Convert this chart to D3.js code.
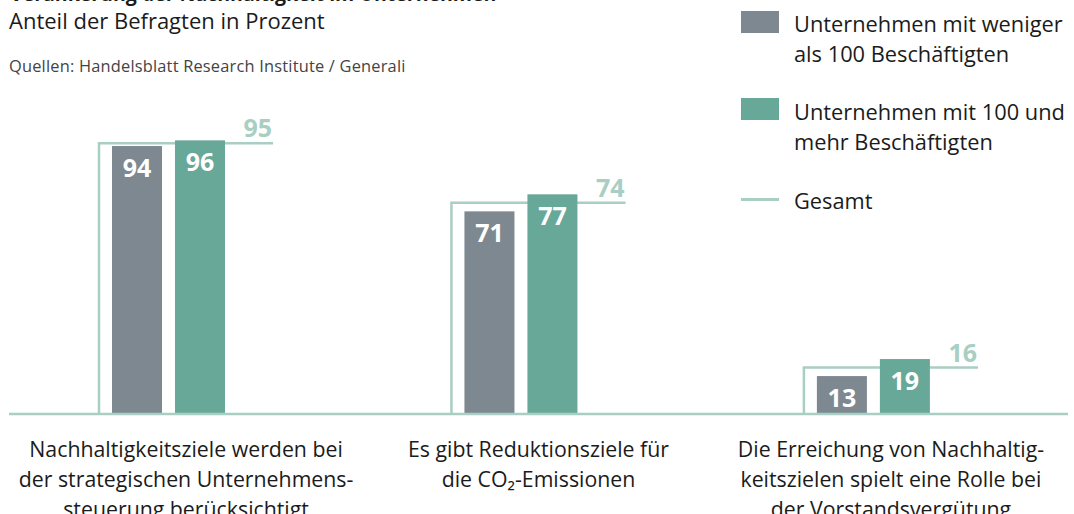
<!DOCTYPE html>
<html>
<head>
<meta charset="utf-8">
<script src="https://cdn.jsdelivr.net/npm/d3@7"></script>
<style>
  body { margin: 0; background: #fff; }
  svg { display: block; font-family: "Open Sans", sans-serif; }
</style>
</head>
<body>
<script>
// data
const categories = [
  ["Nachhaltigkeitsziele werden bei", "der strategischen Unternehmens-", "steuerung berücksichtigt"],
  ["Es gibt Reduktionsziele für", "die CO₂-Emissionen"],
  ["Die Erreichung von Nachhaltig-", "keitszielen spielt eine Rolle bei", "der Vorstandsvergütung"]
];
const small = [94, 71, 13];   // < 100 Beschäftigte
const large = [96, 77, 19];   // >= 100 Beschäftigte
const total = [95, 74, 16];   // Gesamt
const seriesNames = ["Unternehmen mit weniger als 100 Beschäftigten", "Unternehmen mit 100 und mehr Beschäftigten"];
const legendLines = [["Unternehmen mit weniger", "als 100 Beschäftigten"], ["Unternehmen mit 100 und", "mehr Beschäftigten"], ["Gesamt"]];

const colGray = "#7e8891", colGreen = "#68a898", colLight = "#a9cec3", colText = "#1b1b1b";

const width = 1074, height = 514, baseY = 413;

const svg = d3.select("body").append("svg")
    .attr("width", width)
    .attr("height", height);

const rows = categories.map((c, i) => ({ label: c, key: "c" + i, small: small[i], large: large[i], total: total[i] }));

// scales
const x = d3.scaleBand()
    .domain(rows.map(d => d.key))
    .range([99, 978])
    .paddingInner(0.506)
    .paddingOuter(0);

const xSub = d3.scaleBand()
    .domain(["small", "large"])
    .range([13, 126])
    .paddingInner(0.206)
    .paddingOuter(0);

const y = d3.scaleLinear()
    .domain([0, 100])
    .range([baseY, baseY - 284]);

const color = d3.scaleOrdinal()
    .domain(["small", "large"])
    .range([colGray, colGreen]);

// titles (the main title is cut off at the top, as in the original)
svg.append("text")
    .attr("x", 10).attr("y", 0.5)
    .attr("fill", colText)
    .style("font-size", "19.5px").style("font-weight", 700)
    .text("Verankerung der Nachhaltigkeit im Unternehmen");

svg.append("text")
    .attr("x", 9).attr("y", 29)
    .attr("fill", colText)
    .style("font-size", "22px")
    .text("Anteil der Befragten in Prozent");

svg.append("text")
    .attr("x", 9).attr("y", 72)
    .attr("fill", "#444")
    .style("font-size", "16.4px")
    .style("letter-spacing", "0.2px")
    .text("Quellen: Handelsblatt Research Institute / Generali");

// groups
const g = svg.append("g")
  .selectAll("g")
  .data(rows)
  .join("g")
    .attr("transform", d => `translate(${x(d.key)},0)`);

// Gesamt bracket
g.append("path")
    .attr("fill", "none")
    .attr("stroke", colLight)
    .attr("stroke-width", 2.5)
    .attr("d", d => `M0,${baseY}V${y(d.total)}H${x.bandwidth()}`);

// bars
g.selectAll("rect")
  .data(d => ["small", "large"].map(k => ({ k, v: d[k] })))
  .join("rect")
    .attr("x", d => xSub(d.k))
    .attr("y", d => y(d.v))
    .attr("width", xSub.bandwidth())
    .attr("height", d => baseY - y(d.v))
    .attr("fill", d => color(d.k));

g.selectAll(".val")
  .data(d => ["small", "large"].map(k => ({ k, v: d[k] })))
  .join("text")
    .attr("class", "val")
    .attr("x", d => xSub(d.k) + xSub.bandwidth() / 2)
    .attr("y", d => y(d.v) + 31)
    .attr("text-anchor", "middle")
    .attr("fill", "#fff")
    .style("font-size", "25px").style("font-weight", 700)
    .text(d => d.v);

g.append("text")
    .attr("x", x.bandwidth() - 1)
    .attr("y", d => y(d.total) - 6)
    .attr("text-anchor", "end")
    .attr("fill", colLight)
    .style("font-size", "25px").style("font-weight", 700)
    .text(d => d.total);

// baseline
svg.append("line")
    .attr("x1", 9).attr("x2", 1068)
    .attr("y1", baseY + 1).attr("y2", baseY + 1)
    .attr("stroke", colLight)
    .attr("stroke-width", 2.6);

// category labels
g.append("text")
    .attr("x", x.bandwidth() / 2)
    .attr("text-anchor", "middle")
    .attr("fill", colText)
    .style("font-size", "21.3px")
  .selectAll("tspan")
  .data(d => d.label)
  .join("tspan")
    .attr("x", x.bandwidth() / 2)
    .attr("y", (d, i) => 457 + i * 30)
    .text(d => d);

// legend
const legend = svg.append("g").attr("transform", "translate(741,0)");
const legendTop = [11, 98];
["small", "large"].forEach((k, i) => {
  legend.append("rect")
      .attr("x", 0).attr("y", legendTop[i])
      .attr("width", 38).attr("height", 22)
      .attr("fill", color(k))
      .append("title").text(seriesNames[i]);
});
legend.append("line")
    .attr("x1", 0).attr("x2", 38)
    .attr("y1", 199.5).attr("y2", 199.5)
    .attr("stroke", colLight)
    .attr("stroke-width", 3);

const legendBase = [32, 120, 209];
legend.selectAll(".leg-text")
  .data(legendLines)
  .join("text")
    .attr("class", "leg-text")
    .attr("fill", colText)
    .style("font-size", "21.8px")
  .selectAll("tspan")
  .data((d, i) => d.map((t, j) => ({ t, y: legendBase[i] + j * 30 })))
  .join("tspan")
    .attr("x", 53)
    .attr("y", d => d.y)
    .text(d => d.t);
</script>
</body>
</html>
